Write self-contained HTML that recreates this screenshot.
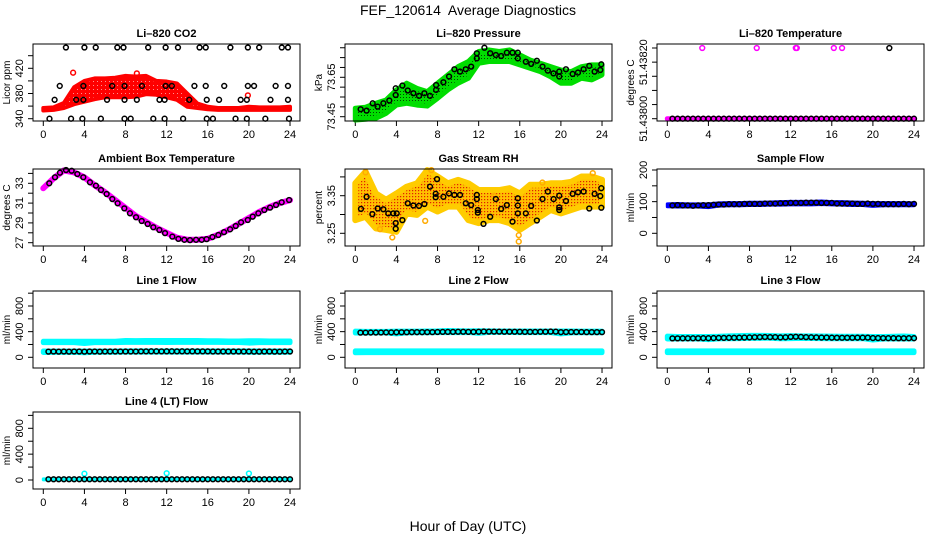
<!DOCTYPE html>
<html><head><meta charset="utf-8"><style>
html,body{margin:0;padding:0;background:#fff;}
svg{display:block;font-family:"Liberation Sans",Arial,sans-serif;}
</style></head><body>
<svg id="chart" width="936" height="540" viewBox="0 0 936 540" xmlns="http://www.w3.org/2000/svg">
<defs>
<pattern id="greenDots" width="3" height="3" patternUnits="userSpaceOnUse"><rect width="3" height="3" fill="#00dd00"/><rect x="1" y="1" width="1" height="1" fill="#004400"/></pattern>
<pattern id="rhDots" width="3" height="3" patternUnits="userSpaceOnUse"><rect width="3" height="3" fill="#ffc000"/><rect x="1" y="1" width="1.2" height="1.2" fill="#e02000"/></pattern>
<pattern id="redDots" width="4" height="4" patternUnits="userSpaceOnUse"><rect width="4" height="4" fill="#ff0000"/><rect x="1" y="1" width="1" height="1" fill="#ff9090"/></pattern>
</defs>
<rect x="0" y="0" width="936" height="540" fill="#fff"/>
<text x="468" y="15" font-size="14" text-anchor="middle">FEF_120614&#160; Average Diagnostics</text>
<text x="468" y="531" font-size="14" text-anchor="middle">Hour of Day (UTC)</text>
</svg>
<script>
// ---------- data ----------
const hours = [0,1,2,3,4,5,6,7,8,9,10,11,12,13,14,15,16,17,18,19,20,21,22,23,24];
const halfHours = [0.5,1,1.5,2,2.5,3,3.5,4,4.5,5,5.5,6,6.5,7,7.5,8,8.5,9,9.5,10,10.5,11,11.5,12,12.5,13,13.5,14,14.5,15,15.5,16,16.5,17,17.5,18,18.5,19,19.5,20,20.5,21,21.5,22,22.5,23,23.5,24];

// CO2
const co2BlackHours = [2.2,4.0,5.1,7.2,7.8,10.2,11.9,13.1,15.2,15.8,18.2,19.9,21.0,23.2,23.8, 1.6,3.9,6.7,7.9,9.6,11.9,12.5,14.7,15.8,17.6,19.9,20.5,22.6,23.8, 1.1,3.2,3.9,6.2,7.9,9.1,11.3,11.8,14.2,15.9,17.1,19.2,19.8,22.1,23.8, 0.6,2.7,3.8,5.6,7.9,8.5,10.7,11.8,13.6,15.9,16.5,18.7,19.8,21.6,23.9];
const co2BlackValues = [453,453,453,453,453,453,453,453,453,453,453,453,453,453,453, 392,392,392,392,392,392,392,392,392,392,392,392,392,392, 370,370,370,370,370,370,370,370,370,370,370,370,370,370,370, 340,340,340,340,340,340,340,340,340,340,340,340,340,340,340];
const co2RedLow  = [353,354,357,363,367,371,374,374,374,375,379,378,374,370,359,357,355,354,354,354,354,354,354,354,354];
const co2RedHigh = [357,358,365,390,400,404,404,405,408,407,408,400,399,396,380,364,359,357,357,357,359,358,358,358,359];
const co2RedOutHours = [2.9,9.1,19.9];
const co2RedOutValues = [413,412,377];

// Pressure
const presBlackHours = [0.52,1.10,1.69,2.17,2.73,3.31,3.93,3.93,4.58,5.10,5.65,6.20,6.72,7.27,7.86,7.86,8.57,9.12,9.64,10.19,10.75,11.27,11.82,11.82,12.56,13.12,13.67,14.19,14.74,15.29,15.81,15.81,16.59,17.11,17.66,18.21,18.73,19.28,19.84,19.84,20.49,21.14,21.66,22.21,22.76,23.28,23.83,23.93];
const presBlackValues = [73.488,73.481,73.518,73.501,73.518,73.532,73.560,73.594,73.608,73.583,73.569,73.556,73.569,73.556,73.611,73.586,73.625,73.654,73.691,73.679,73.691,73.704,73.746,73.772,73.800,73.772,73.763,73.758,73.775,73.775,73.775,73.746,73.729,73.718,73.734,73.704,73.684,73.670,73.679,73.654,73.691,73.667,73.674,73.691,73.708,73.679,73.687,73.716];
const presGreenLow  = [73.433,73.437,73.442,73.467,73.509,73.518,73.509,73.504,73.543,73.586,73.620,73.645,73.721,73.730,73.730,73.730,73.713,73.696,73.679,73.653,73.620,73.620,73.645,73.637,73.662];
const presGreenHigh = [73.493,73.498,73.518,73.535,73.586,73.620,73.594,73.577,73.620,73.662,73.704,73.730,73.781,73.789,73.781,73.789,73.764,73.738,73.721,73.704,73.687,73.679,73.704,73.713,73.713];

// Li-820 temperature
const ltMagentaLine = [51.438,51.438,51.438,51.438,51.438,51.438,51.438,51.438,51.438,51.438,51.438,51.438,51.438,51.438,51.438,51.438,51.438,51.438,51.438,51.438,51.438,51.438,51.438,51.438,51.438];
const ltBlack = [51.438,51.438,51.438,51.438,51.438,51.438,51.438,51.438,51.438,51.438,51.438,51.438,51.438,51.438,51.438,51.438,51.438,51.438,51.438,51.438,51.438,51.438,51.438,51.438,51.438,51.438,51.438,51.438,51.438,51.438,51.438,51.438,51.438,51.438,51.438,51.438,51.438,51.438,51.438,51.438,51.438,51.438,51.438,51.438,51.438,51.438,51.438,51.438];
const ltMagentaOutHours = [3.4,8.7,12.5,12.6,16.2,17.0];
const ltMagentaOutValues = [51.43825,51.43825,51.43825,51.43825,51.43825,51.43825];
const ltBlackOutHours = [21.6];
const ltBlackOutValues = [51.43825];

// Ambient box temperature
const ambBlackHours = [0.58,1.14,1.62,2.21,2.76,3.31,3.89,4.54,5.12,5.61,6.16,6.71,7.23,7.88,8.43,9.02,9.57,10.15,10.70,11.29,11.84,12.55,13.14,13.72,14.27,14.86,15.41,15.89,16.45,17.03,17.58,18.17,18.72,19.24,19.89,20.37,20.92,21.50,22.06,22.64,23.19,23.91];
const ambBlackValues = [33.00,33.61,34.07,34.34,34.27,33.94,33.61,33.10,32.76,32.32,31.92,31.41,30.98,30.47,29.97,29.57,29.19,28.89,28.56,28.28,27.97,27.61,27.39,27.29,27.26,27.29,27.29,27.36,27.57,27.78,28.07,28.35,28.69,29.06,29.29,29.63,29.97,30.30,30.54,30.81,31.08,31.31];
const ambMagenta = [32.5,33.5,34.3,34.1,33.6,32.8,32.1,31.3,30.5,29.7,29.1,28.5,28.0,27.5,27.3,27.3,27.4,27.8,28.3,28.9,29.5,30.1,30.6,31.0,31.3];

// Gas stream RH
const rhBlackHours = [0.55,1.10,1.66,2.18,2.73,3.21,3.70,4.03,3.93,3.93,4.58,5.10,5.65,6.20,6.72,7.27,7.82,7.82,7.95,8.57,9.12,9.64,10.19,10.75,11.27,11.82,11.82,11.92,11.92,12.47,13.12,13.67,14.19,14.74,15.29,15.81,15.81,15.81,16.59,17.11,17.66,18.21,18.73,19.29,19.84,19.84,19.84,20.49,21.14,21.66,22.21,22.76,23.28,23.83,23.93,23.93];
const rhBlackValues = [3.315,3.347,3.301,3.316,3.314,3.303,3.303,3.303,3.277,3.262,3.285,3.330,3.324,3.323,3.328,3.374,3.355,3.346,3.394,3.347,3.356,3.352,3.352,3.330,3.325,3.352,3.341,3.312,3.305,3.275,3.294,3.341,3.315,3.325,3.281,3.343,3.324,3.303,3.303,3.323,3.284,3.341,3.361,3.341,3.350,3.319,3.312,3.336,3.355,3.359,3.361,3.316,3.355,3.349,3.370,3.318];
const rhOrangeLow  = [3.285,3.294,3.263,3.259,3.254,3.303,3.299,3.321,3.308,3.321,3.321,3.285,3.277,3.285,3.285,3.277,3.259,3.277,3.294,3.312,3.303,3.312,3.321,3.321,3.321];
const rhOrangeHigh = [3.383,3.414,3.356,3.339,3.356,3.374,3.383,3.418,3.401,3.383,3.392,3.383,3.365,3.365,3.365,3.370,3.356,3.379,3.379,3.383,3.383,3.387,3.401,3.401,3.392];
const rhOutHours = [7.4,1.0,15.9,15.9,3.6,2.4,6.8,13.5,18.2,23.1];
const rhOutValues = [3.418,3.412,3.245,3.228,3.239,3.261,3.283,3.350,3.385,3.410];

// Sample flow
const sampleBlack = [88,89,88,88,87,88,89,89,90,91,91,92,92,92,93,93,93,93,94,94,94,95,95,96,96,96,97,97,97,96,96,96,94,94,94,94,93,93,94,93,93,92,92,92,92,93,92,93];
const sampleBlueLow  = [84,83,83,83,81,86,87,87,88,88,89,89,90,90,90,91,90,89,88,88,85,87,87,87,87];
const sampleBlueHigh = [93,94,93,93,93,96,97,97,98,98,99,100,101,101,101,102,100,100,99,98,97,97,97,97,96];

// Line 1 flow
const l1Black = [88,90,89,90,89,90,90,89,90,90,89,90,90,90,90,91,91,91,92,92,93,93,92,93,93,92,93,92,93,92,92,92,91,91,91,90,90,90,90,90,89,89,90,90,89,89,90,90];
const l1CyanLowA  = [75,76,76,76,70,78,78,78,80,80,80,80,80,80,80,80,80,80,80,80,78,78,78,78,78];
const l1CyanHighA = [98,98,98,98,98,98,98,98,100,100,100,100,100,100,100,100,100,100,100,100,100,100,100,100,100];
const l1CyanLowB  = [228,228,228,228,215,228,228,228,232,232,232,232,230,233,233,233,232,232,230,230,222,228,228,228,228];
const l1CyanHighB = [250,250,250,250,250,250,250,250,262,260,262,262,262,262,262,262,258,258,255,255,258,258,255,255,255];

// Line 2 flow
const l2Black = [385,385,386,386,387,388,388,390,391,391,392,392,392,393,393,395,396,397,397,398,398,397,396,398,402,400,400,400,399,399,399,398,397,396,396,398,399,401,400,392,395,394,394,394,393,393,393,393];
const l2CyanLowA  = [70,72,72,72,72,72,72,72,72,72,72,72,72,72,72,72,72,72,72,72,72,72,72,72,72];
const l2CyanHighA = [100,100,100,100,100,100,100,100,100,100,100,100,100,100,100,100,100,100,100,100,100,100,100,100,100];
const l2CyanLowB  = [378,378,380,380,365,380,382,382,384,385,385,386,375,388,388,388,384,384,384,385,365,380,382,382,382];
const l2CyanHighB = [408,405,405,405,408,408,408,410,412,418,415,412,415,412,410,410,410,410,410,410,410,410,408,408,408];

// Line 3 flow
const l3Black = [295,295,296,296,296,297,298,298,300,302,303,304,305,307,308,310,313,315,317,315,314,310,312,318,320,318,315,312,310,308,308,306,305,305,305,305,306,306,307,300,300,299,298,298,297,297,298,298];
const l3CyanLowA  = [72,72,72,72,72,72,72,72,72,72,72,72,72,72,72,72,72,72,72,72,72,72,72,72,72];
const l3CyanHighA = [100,100,100,100,100,100,100,100,100,100,100,100,100,100,100,100,100,100,100,100,100,100,100,100,100];
const l3CyanLowB  = [285,285,285,285,275,288,290,292,296,296,298,290,292,296,294,292,290,290,290,290,270,286,286,286,286];
const l3CyanHighB = [330,325,325,325,325,328,335,338,342,342,340,335,338,335,335,332,330,328,328,328,325,325,328,332,325];

// Line 4 (LT) flow
const l4Black = [12,12,12,12,12,12,12,12,12,12,12,12,12,12,12,12,12,12,12,12,12,12,12,12,12,12,12,12,12,12,12,12,12,12,12,12,12,12,12,12,12,12,12,12,12,12,12,12];
const l4CyanLow  = [2,3,3,3,3,3,3,3,3,3,3,3,3,3,3,3,3,3,3,3,3,3,3,3,3];
const l4CyanHigh = [18,18,18,18,18,18,18,18,18,18,18,18,18,18,18,18,18,18,18,18,18,18,18,18,18];
const l4SpikeHours = [4,12,20];
const l4SpikeValues = [98,105,100];

// ---------- layout ----------
const NS = 'http://www.w3.org/2000/svg';
const svg = document.getElementById('chart');
const colL = [33, 345, 657];
const rowT = [44, 169, 291, 412];
const BW = 267, BH = 77;
const xTicks = [0,4,8,12,16,20,24];

function mk(tag, attrs, name, parent) {
  const el = document.createElementNS(NS, tag);
  for (const k in attrs) el.setAttribute(k, attrs[k]);
  
  
  (parent || svg).appendChild(el);
  return el;
}

function panel(cfg) {
  const L = colL[cfg.col], T = rowT[cfg.row];
  const g = mk('g', {}, cfg.key + '-panel');
  const xs = h => L + 10.3 + h * 10.28;
  const ys = v => T + cfg.o1 + (v - cfg.v1) * (cfg.o2 - cfg.o1) / (cfg.v2 - cfg.v1);
  const t = mk('text', {x: L + BW / 2, y: T - 7, 'font-size': 11, 'font-weight': 'bold', 'text-anchor': 'middle'}, cfg.key + '-title', g);
  t.textContent = cfg.title;
  const yt = mk('text', {transform: `translate(${L - 23},${T + BH / 2}) rotate(-90)`, 'font-size': 10, 'text-anchor': 'middle'}, cfg.key + '-y-axis-title', g);
  yt.textContent = cfg.ytitle;
  const yp = cfg.ticks.map(ys);
  mk('line', {x1: L, x2: L, y1: Math.min(...yp), y2: Math.max(...yp), stroke: '#000', 'stroke-width': 1}, cfg.key + '-y-axis', g);
  cfg.ticks.forEach((v, i) => {
    mk('line', {x1: L - 5, x2: L, y1: yp[i], y2: yp[i], stroke: '#000', 'stroke-width': 1}, cfg.key + '-y-tick', g);
  });
  cfg.labels.forEach(lab => {
    const tl = mk('text', {transform: `translate(${L - 10},${ys(lab.v)}) rotate(-90)`, 'font-size': 11, 'text-anchor': 'middle'}, cfg.key + '-y-tick-label', g);
    tl.textContent = lab.s;
  });
  mk('line', {x1: xs(0), x2: xs(24), y1: T + BH, y2: T + BH, stroke: '#000', 'stroke-width': 1}, cfg.key + '-x-axis', g);
  xTicks.forEach(h => {
    mk('line', {x1: xs(h), x2: xs(h), y1: T + BH, y2: T + BH + 5, stroke: '#000', 'stroke-width': 1}, cfg.key + '-x-tick', g);
    const xl = mk('text', {x: xs(h), y: T + BH + 17, 'font-size': 11, 'text-anchor': 'middle'}, cfg.key + '-x-tick-label', g);
    xl.textContent = h;
  });
  const plot = mk('g', {}, cfg.key + '-plot-area', g);
  (cfg.bands || []).forEach(b => {
    let pts = hours.map((h, i) => xs(h) + ',' + ys(b.hi[i]));
    pts = pts.concat(hours.map((h, i) => xs(h) + ',' + ys(b.lo[i])).reverse());
    mk('polygon', {points: pts.join(' '), fill: b.fill || b.color, stroke: b.color, 'stroke-width': b.w || 5, 'stroke-linejoin': 'round'}, cfg.key + '-band', plot);
  });
  (cfg.lines || []).forEach(ln => {
    const pts = hours.map((h, i) => xs(h) + ',' + ys(ln.v[i])).join(' ');
    mk('polyline', {points: pts, fill: 'none', stroke: ln.color, 'stroke-width': ln.w, 'stroke-linejoin': 'round', 'stroke-linecap': 'round'}, cfg.key + '-series-line', plot);
  });
  (cfg.points || []).forEach(ps => {
    ps.h.forEach((h, i) => {
      mk('circle', {cx: xs(h), cy: ys(ps.v[i]), r: 2.4, fill: 'none', stroke: ps.color, 'stroke-width': 1.5}, cfg.key + '-point', plot);
    });
  });
  mk('rect', {x: L, y: T, width: BW, height: BH, fill: 'none', stroke: '#000', 'stroke-width': 1}, cfg.key + '-frame', g);
}

const flowTicks = [0,200,400,600,800,1000];
const flowLabels = [{v:0,s:'0'},{v:400,s:'400'},{v:800,s:'800'}];

panel({key:'co2', col:0, row:0, title:'Li\u2013820 CO2', ytitle:'Licor ppm', v1:340, o1:74.7, v2:420, o2:24.3,
  ticks:[340,360,380,400,420,440], labels:[{v:340,s:'340'},{v:380,s:'380'},{v:420,s:'420'}],
  bands:[{lo:co2RedLow, hi:co2RedHigh, color:'#ff0000', fill:'url(#redDots)', w:4}],
  points:[{h:co2RedOutHours, v:co2RedOutValues, color:'#ff0000'},{h:co2BlackHours, v:co2BlackValues, color:'#000'}]});

panel({key:'pressure', col:1, row:0, title:'Li\u2013820 Pressure', ytitle:'kPa', v1:73.45, o1:72.7, v2:73.65, o2:33.3,
  ticks:[73.45,73.50,73.55,73.60,73.65,73.70,73.75,73.80], labels:[{v:73.45,s:'73.45'},{v:73.65,s:'73.65'}],
  bands:[{lo:presGreenLow, hi:presGreenHigh, color:'#00dd00', fill:'url(#greenDots)'}],
  points:[{h:presBlackHours, v:presBlackValues, color:'#000'}]});

panel({key:'li820-temp', col:2, row:0, title:'Li\u2013820 Temperature', ytitle:'degrees C', v1:51.438, o1:74.7, v2:51.43825, o2:4,
  ticks:[51.438,51.43805,51.4381,51.43815,51.4382,51.43825], labels:[{v:51.438,s:'51.43800'},{v:51.4382,s:'51.43820'}],
  lines:[{v:ltMagentaLine, color:'#ff00ff', w:5}],
  points:[{h:ltMagentaOutHours, v:ltMagentaOutValues, color:'#ff00ff'},{h:halfHours, v:ltBlack, color:'#000'},{h:ltBlackOutHours, v:ltBlackOutValues, color:'#000'}]});

panel({key:'ambient-temp', col:0, row:1, title:'Ambient Box Temperature', ytitle:'degrees C', v1:27, o1:73.7, v2:33, o2:14.3,
  ticks:[27,28,29,30,31,32,33,34], labels:[{v:27,s:'27'},{v:29,s:'29'},{v:31,s:'31'},{v:33,s:'33'}],
  lines:[{v:ambMagenta, color:'#ff00ff', w:6}],
  points:[{h:ambBlackHours, v:ambBlackValues, color:'#000'}]});

panel({key:'gas-rh', col:1, row:1, title:'Gas Stream RH', ytitle:'percent', v1:3.25, o1:64.3, v2:3.35, o2:26.7,
  ticks:[3.25,3.30,3.35,3.40], labels:[{v:3.25,s:'3.25'},{v:3.35,s:'3.35'}],
  bands:[{lo:rhOrangeLow, hi:rhOrangeHigh, color:'#ffcc00', fill:'url(#rhDots)', w:6}],
  points:[{h:rhOutHours, v:rhOutValues, color:'#ffaa00'},{h:rhBlackHours, v:rhBlackValues, color:'#000'}]});

panel({key:'sample-flow', col:2, row:1, title:'Sample Flow', ytitle:'ml/min', v1:0, o1:64.3, v2:200, o2:1,
  ticks:[0,50,100,150,200], labels:[{v:0,s:'0'},{v:100,s:'100'},{v:200,s:'200'}],
  bands:[{lo:sampleBlueLow, hi:sampleBlueHigh, color:'#0000ff', w:3}],
  points:[{h:halfHours, v:sampleBlack, color:'#000'}]});

panel({key:'line1-flow', col:0, row:2, title:'Line 1 Flow', ytitle:'ml/min', v1:0, o1:66.3, v2:800, o2:15,
  ticks:flowTicks, labels:flowLabels,
  bands:[{lo:l1CyanLowA, hi:l1CyanHighA, color:'#00ffff'},{lo:l1CyanLowB, hi:l1CyanHighB, color:'#00ffff'}],
  points:[{h:halfHours, v:l1Black, color:'#000'}]});

panel({key:'line2-flow', col:1, row:2, title:'Line 2 Flow', ytitle:'ml/min', v1:0, o1:66.3, v2:800, o2:15,
  ticks:flowTicks, labels:flowLabels,
  bands:[{lo:l2CyanLowA, hi:l2CyanHighA, color:'#00ffff'},{lo:l2CyanLowB, hi:l2CyanHighB, color:'#00ffff'}],
  points:[{h:halfHours, v:l2Black, color:'#000'}]});

panel({key:'line3-flow', col:2, row:2, title:'Line 3 Flow', ytitle:'ml/min', v1:0, o1:66.3, v2:800, o2:15,
  ticks:flowTicks, labels:flowLabels,
  bands:[{lo:l3CyanLowA, hi:l3CyanHighA, color:'#00ffff'},{lo:l3CyanLowB, hi:l3CyanHighB, color:'#00ffff'}],
  points:[{h:halfHours, v:l3Black, color:'#000'}]});

panel({key:'line4-flow', col:0, row:3, title:'Line 4 (LT) Flow', ytitle:'ml/min', v1:0, o1:68, v2:800, o2:16.3,
  ticks:flowTicks, labels:flowLabels,
  bands:[{lo:l4CyanLow, hi:l4CyanHigh, color:'#00ffff', w:3}],
  points:[{h:l4SpikeHours, v:l4SpikeValues, color:'#00ffff'},{h:halfHours, v:l4Black, color:'#000'}]});
</script>
</body></html>
